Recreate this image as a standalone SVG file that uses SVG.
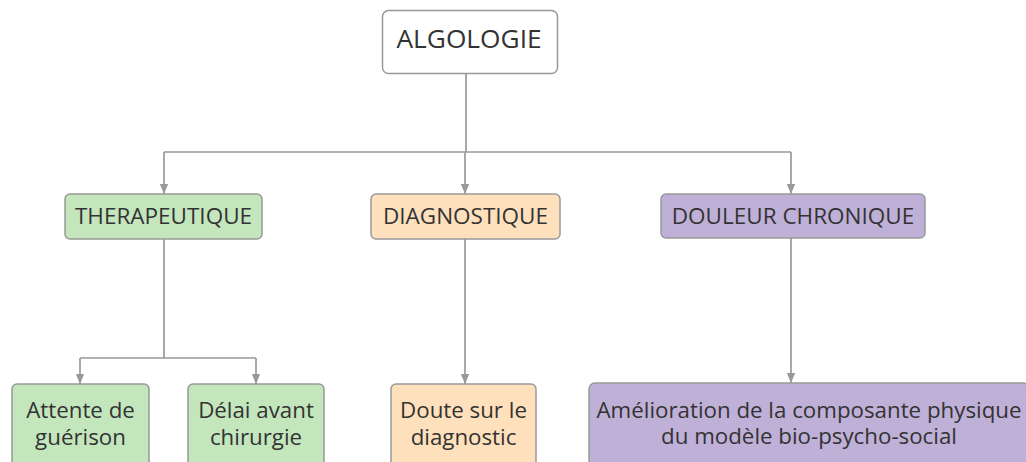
<svg xmlns="http://www.w3.org/2000/svg" width="1026" height="462" viewBox="0 0 1026 462">
<style>
.box{stroke:#999999;stroke-width:1.5}
.root{fill:#ffffff}
.green{fill:#c3e6bd}
.orange{fill:#ffe0bc}
.purple{fill:#bfb0d8}
text{font-family:"Open Sans","Noto Sans","Liberation Sans",sans-serif;fill:#333333;text-anchor:middle}
.t2{font-size:22.5px}
.t3{font-size:22.3px}
.conn{fill:none;stroke:#999999;stroke-width:1.7}
</style>
<defs>
<marker id="ah" markerWidth="10" markerHeight="12" refX="12" refY="5" orient="auto" markerUnits="userSpaceOnUse" viewBox="0 0 12 10">
<path d="M0,0 L12,5 L0,10 Z" fill="#999999"/>
</marker>
</defs>
<g id="connectors">
<path class="conn" d="M466,73 V152" />
<path class="conn" d="M164,152 H791" />
<path class="conn" d="M164,152 V194" marker-end="url(#ah)"/>
<path class="conn" d="M465,152 V194" marker-end="url(#ah)"/>
<path class="conn" d="M791,152 V194" marker-end="url(#ah)"/>
<path class="conn" d="M164,239 V358 M80,358 H256"/>
<path class="conn" d="M80,358 V384" marker-end="url(#ah)"/>
<path class="conn" d="M256,358 V384" marker-end="url(#ah)"/>
<path class="conn" d="M465,239 V384" marker-end="url(#ah)"/>
<path class="conn" d="M791,238 V383" marker-end="url(#ah)"/>
</g>
<g id="algologie">
<rect class="box root" x="382.5" y="10.5" width="175" height="63" rx="6"/>
<text x="469" y="48" style="font-size:26.3px">ALGOLOGIE</text>
</g>
<g id="therapeutique">
<rect class="box green" x="65" y="194" width="197" height="45" rx="5"/>
<text class="t2" x="163.5" y="224">THERAPEUTIQUE</text>
</g>
<g id="diagnostique">
<rect class="box orange" x="371" y="194" width="189" height="45" rx="5"/>
<text class="t2" x="465.5" y="224">DIAGNOSTIQUE</text>
</g>
<g id="douleur">
<rect class="box purple" x="661" y="194" width="264" height="44" rx="5"/>
<text class="t2" x="793" y="224">DOULEUR CHRONIQUE</text>
</g>
<g id="attente">
<rect class="box green" x="12" y="384" width="137" height="90" rx="5"/>
<text class="t3" x="80.5" y="418">Attente de<tspan x="80.5" dy="27">guérison</tspan></text>
</g>
<g id="delai">
<rect class="box green" x="188" y="384" width="136" height="90" rx="5"/>
<text class="t3" x="256" y="418">Délai avant<tspan x="256" dy="27">chirurgie</tspan></text>
</g>
<g id="doute">
<rect class="box orange" x="391" y="384" width="145" height="90" rx="5"/>
<text class="t3" x="463.5" y="418">Doute sur le<tspan x="463.5" dy="27">diagnostic</tspan></text>
</g>
<g id="amelioration">
<rect class="box purple" x="589" y="383" width="440" height="90" rx="6"/>
<text class="t3" x="809" y="417.5">Amélioration de la composante physique<tspan x="809" dy="26.5">du modèle bio-psycho-social</tspan></text>
</g>
</svg>
